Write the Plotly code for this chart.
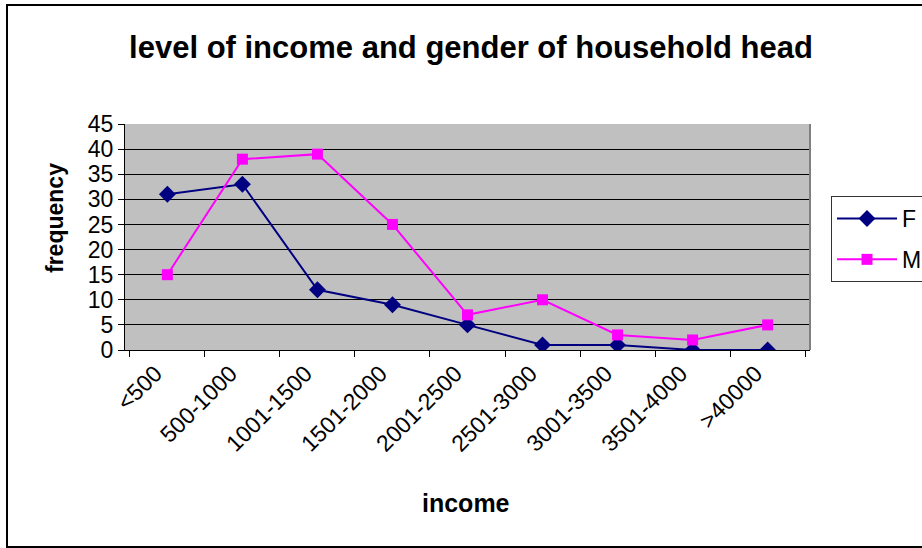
import plotly.graph_objects as go

# ── Data ──────────────────────────────────────────────────────────────────────
income_bands = ["<500", "500-1000", "1001-1500", "1501-2000", "2001-2500",
                "2501-3000", "3001-3500", "3501-4000", ">40000"]
female = [31, 33, 12, 9, 5, 1, 1, 0, 0]
male = [15, 38, 39, 25, 7, 10, 3, 2, 5]

FONT = "Liberation Sans, Arial, sans-serif"
C = {"F": "#000080", "M": "#FF00FF", "plot_bg": "#C0C0C0"}

# plot area in pixels: x 125..810, y 124..350
PX_L, PX_R, PX_T, PX_B = 125, 810, 124, 350
PW, PH = PX_R - PX_L, PX_B - PX_T


def px_x(x):
    return (x - PX_L) / PW


def px_y(y):
    return (PX_B - y) / PH


fig = go.Figure()
fig.add_trace(go.Scatter(
    x=income_bands, y=female, name="F", mode="lines+markers", legendgroup="F",
    line=dict(color=C["F"], width=2),
    marker=dict(symbol="diamond", size=13, color=C["F"]),
))
fig.add_trace(go.Scatter(
    x=income_bands, y=male, name="M", mode="lines+markers", legendgroup="M",
    line=dict(color=C["M"], width=2),
    marker=dict(symbol="square", size=11, color=C["M"]),
))

# outer chart border (Excel style)
fig.add_shape(type="rect", xref="paper", yref="paper",
              x0=px_x(7), x1=px_x(935), y0=px_y(547), y1=px_y(5),
              line=dict(color="black", width=2), layer="below")
# right border of plot area (grey)
fig.add_shape(type="line", xref="paper", yref="paper", x0=1, x1=1, y0=0, y1=1,
              line=dict(color="#808080", width=2))

# axis titles
fig.add_annotation(text="<b>income</b>", xref="paper", yref="paper",
                   x=px_x(466), y=px_y(503), xanchor="center", yanchor="middle",
                   showarrow=False, font=dict(size=25))
fig.add_annotation(text="<b>frequency</b>", xref="paper", yref="paper",
                   x=px_x(55), y=px_y(218), xanchor="center", yanchor="middle",
                   showarrow=False, textangle=-90, font=dict(size=23))

fig.update_layout(
    width=922, height=548,
    margin=dict(l=PX_L, r=922 - PX_R, t=PX_T, b=548 - PX_B, autoexpand=False),
    paper_bgcolor="white", plot_bgcolor=C["plot_bg"],
    font=dict(family=FONT, size=23, color="black"),
    title=dict(text="<b>level of income and gender of household head</b>",
               x=471 / 922, xanchor="center", y=1 - 47 / 548, yanchor="middle",
               font=dict(size=31)),
    legend=dict(x=px_x(831), xanchor="left", y=px_y(196), yanchor="top",
                bordercolor="#333333", borderwidth=1, bgcolor="white",
                font=dict(size=23), tracegroupgap=8, itemwidth=60),
    showlegend=True,
)
fig.update_xaxes(
    type="category", tickson="boundaries", tickangle=-45,
    ticks="outside", ticklen=6, tickcolor="black", ticklabelshift=-12,
    showline=True, linecolor="black", linewidth=1,
    showgrid=False,
)
fig.update_yaxes(
    range=[0, 45], dtick=5, ticks="outside", ticklen=6, tickcolor="black",
    showline=True, linecolor="black", linewidth=1,
    gridcolor="black", gridwidth=1, zeroline=False,
)

fig.write_html("out.html", config={"displayModeBar": False},
               post_script="document.body.style.margin='0';")
